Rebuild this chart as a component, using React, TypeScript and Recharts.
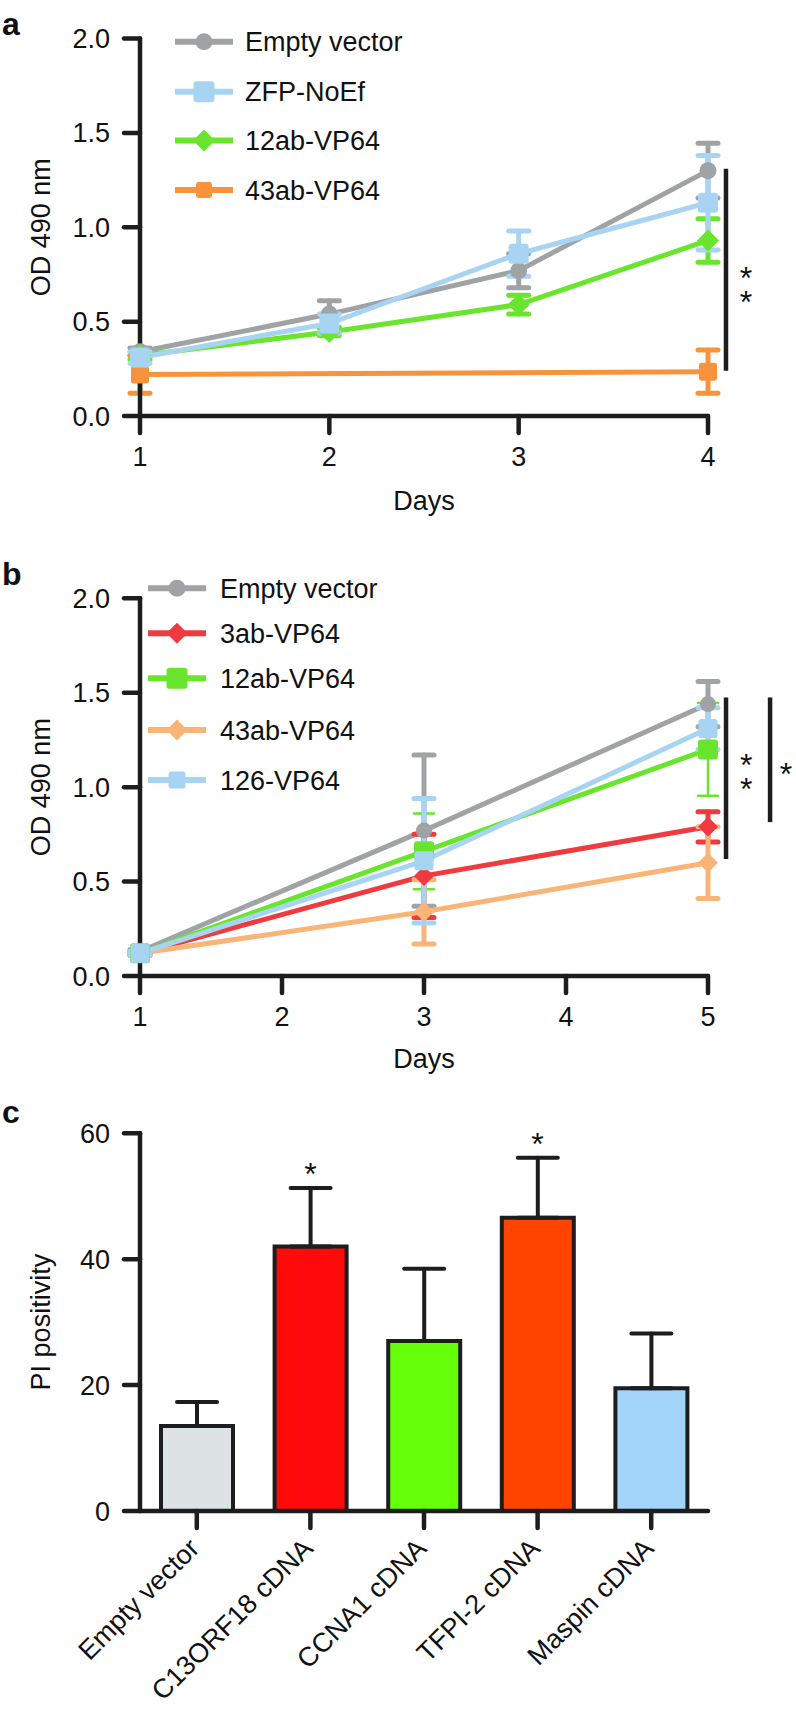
import React from 'react';
import {
  LineChart, Line, XAxis, YAxis, ErrorBar, Legend, ReferenceLine, ReferenceDot,
  BarChart, Bar, Cell,
} from 'recharts';

const FONT = '"Liberation Sans", Arial, Helvetica, sans-serif';
const INK = '#1d1d1d';
const TEXT = '#111111';

// ---------- Panel a ----------
const daysA = [1, 2, 3, 4];
const aEmptyVector = [0.34, 0.54, 0.77, 1.30];
const aEmptyVectorErr = [0.02, 0.07, 0.09, 0.145];
const aZfpNoEf = [0.31, 0.49, 0.86, 1.13];
const aZfpNoEfErr = [0.03, 0.05, 0.12, 0.25];
const a12abVP64 = [0.32, 0.445, 0.59, 0.93];
const a12abVP64Err = [0.02, 0.02, 0.05, 0.115];
const a43abVP64 = [0.22, null, null, 0.235];
const a43abVP64Err = [0.10, null, null, 0.115];
const odTicks = [0, 0.5, 1, 1.5, 2];
const aSigBar = { x: 4.095, from: 0.24, to: 1.31 };
const aSigStars = [{ x: 4.2, y: 0.775, label: '**' }];

// ---------- Panel b ----------
const daysB = [1, 3, 5];
const bTicksX = [1, 2, 3, 4, 5];
const bEmptyVector = [0.13, 0.77, 1.44];
const bEmptyVectorErr = [0.01, 0.40, 0.12];
const b3abVP64 = [0.12, 0.53, 0.79];
const b3abVP64Err = [0.01, 0.22, 0.08];
const b12abVP64 = [0.12, 0.66, 1.2];
const b12abVP64Err = [0.01, 0.2, 0.245];
const b43abVP64 = [0.12, 0.34, 0.6];
const b43abVP64Err = [0.01, 0.17, 0.19];
const b126VP64 = [0.12, 0.61, 1.31];
const b126VP64Err = [0.01, 0.33, 0.11];
const bSigBars = [
  { x: 5.127, from: 0.62, to: 1.475 },
  { x: 5.437, from: 0.815, to: 1.475 },
];
const bSigStars = [
  { x: 5.27, y: 1.158, label: '**' }, { x: 5.55, y: 1.105, label: '*' },
];

// ---------- Panel c ----------
const cCategories = ['Empty vector', 'C13ORF18 cDNA', 'CCNA1 cDNA', 'TFPI-2 cDNA', 'Maspin cDNA'];
const cValues = [13.5, 42, 27, 46.6, 19.5];
const cErrors = [3.8, 9.3, 11.5, 9.5, 8.7];
const cSignificant = [false, true, false, true, false];
const cColors = ['#dde3e4', '#ff0a0a', '#66ff0a', '#ff4400', '#a3d5fa'];
const cTicksY = [0, 20, 40, 60];

type Series = {
  key: string; name: string; color: string; shape: 'circle' | 'square' | 'diamond';
  values: (number | null)[]; errs: (number | null)[]; size: number; legendSize: number; errStroke: number;
};

const seriesA: Series[] = [
  { key: 'ev', name: 'Empty vector', color: '#9fa3a6', shape: 'circle', values: aEmptyVector, errs: aEmptyVectorErr, size: 17, legendSize: 17, errStroke: 5 },
  { key: 'zfp', name: 'ZFP-NoEf', color: '#a8d4f3', shape: 'square', values: aZfpNoEf, errs: aZfpNoEfErr, size: 20, legendSize: 21, errStroke: 5 },
  { key: 'g12', name: '12ab-VP64', color: '#6ae52e', shape: 'diamond', values: a12abVP64, errs: a12abVP64Err, size: 20, legendSize: 20, errStroke: 5 },
  { key: 'o43', name: '43ab-VP64', color: '#f7943b', shape: 'square', values: a43abVP64, errs: a43abVP64Err, size: 18, legendSize: 16, errStroke: 5 },
];
const drawOrderA = ['ev', 'g12', 'o43', 'zfp'];

const seriesB: Series[] = [
  { key: 'ev', name: 'Empty vector', color: '#9fa3a6', shape: 'circle', values: bEmptyVector, errs: bEmptyVectorErr, size: 16, legendSize: 17, errStroke: 5 },
  { key: 'r3', name: '3ab-VP64', color: '#ef3b40', shape: 'diamond', values: b3abVP64, errs: b3abVP64Err, size: 18, legendSize: 19, errStroke: 5 },
  { key: 'g12', name: '12ab-VP64', color: '#6ae52e', shape: 'square', values: b12abVP64, errs: b12abVP64Err, size: 20, legendSize: 21, errStroke: 2.5 },
  { key: 'o43', name: '43ab-VP64', color: '#f8b577', shape: 'diamond', values: b43abVP64, errs: b43abVP64Err, size: 18, legendSize: 19, errStroke: 5 },
  { key: 'b126', name: '126-VP64', color: '#a8d4f3', shape: 'square', values: b126VP64, errs: b126VP64Err, size: 19, legendSize: 17, errStroke: 5 },
];

const rowsA = daysA.map((d, i) => {
  const row: any = { day: d };
  seriesA.forEach((s) => { row[s.key] = s.values[i]; row[s.key + 'Err'] = s.errs[i]; });
  return row;
});
const rowsB = daysB.map((d, i) => {
  const row: any = { day: d };
  seriesB.forEach((s) => { row[s.key] = s.values[i]; row[s.key + 'Err'] = s.errs[i]; });
  return row;
});
const rowsC = cCategories.map((c, i) => ({
  cat: c, value: cValues[i], err: [0, cErrors[i]], top: cValues[i] + cErrors[i], sig: cSignificant[i],
}));

function Marker({ shape, cx, cy, size, fill }: any) {
  if (shape === 'circle') return <circle cx={cx} cy={cy} r={size / 2} fill={fill} />;
  if (shape === 'square') {
    return <rect x={cx - size / 2} y={cy - size / 2} width={size} height={size} rx={size * 0.15} fill={fill} />;
  }
  const h = size / 2 + 1;
  return <path d={`M${cx},${cy - h} L${cx + h},${cy} L${cx},${cy + h} L${cx - h},${cy} Z`} fill={fill} />;
}

const makeDot = (s: Series) => (props: any) => {
  const { cx, cy, value, index } = props;
  if (value == null || cx == null || cy == null || isNaN(cx) || isNaN(cy)) return <g key={`d-${s.key}-${index}`} />;
  return (
    <g key={`d-${s.key}-${index}`}>
      <Marker shape={s.shape} cx={cx} cy={cy} size={s.size} fill={s.color} />
    </g>
  );
};

const makeLegend = (series: Series[], rows: number[], x1: number, x2: number, textX: number) => () => (
  <svg width={796} height={300} style={{ display: 'block', overflow: 'visible' }}>
    {series.map((s, i) => (
      <g key={s.key}>
        <line x1={x1} x2={x2} y1={rows[i]} y2={rows[i]} stroke={s.color} strokeWidth={6} />
        <Marker shape={s.shape} cx={(x1 + x2) / 2} cy={rows[i]} size={s.legendSize} fill={s.color} />
        <text x={textX} y={rows[i]} dy="0.36em" fontSize={27} fontFamily={FONT} fill={TEXT}>{s.name}</text>
      </g>
    ))}
  </svg>
);

// asterisks: a single star is horizontal text; a stack is one upright vertical text run
const makeStars = (label: string) => (props: any) => {
  if (label.length === 1) {
    return (
      <text x={props.cx} y={props.cy + 18} textAnchor="middle" fontSize={32} fontFamily={FONT} fill={TEXT}>
        {label}
      </text>
    );
  }
  return (
    <text
      x={props.cx}
      y={props.cy - 10}
      fontSize={32}
      fontFamily={FONT}
      fill={TEXT}
      style={{ writingMode: 'vertical-rl', textOrientation: 'upright', letterSpacing: '-12px' } as any}
    >
      {label}
    </text>
  );
};
const StarAbove = (props: any) => (
  <text x={props.cx} y={props.cy - 21 + 18} textAnchor="middle" fontSize={32} fontFamily={FONT} fill={TEXT}>*</text>
);

const axisLineStyle = { stroke: INK, strokeWidth: 4.5, strokeLinecap: 'round' as const };
const tickStyle = { fontSize: 27, fontFamily: FONT, fill: TEXT };

function renderLines(series: Series[], order: string[]) {
  return order.map((k) => {
    const s = series.find((x) => x.key === k)!;
    return (
      <Line
        key={s.key}
        type="linear"
        dataKey={s.key}
        name={s.name}
        stroke={s.color}
        strokeWidth={5}
        strokeLinejoin="round"
        connectNulls
        dot={makeDot(s)}
        activeDot={false}
        legendType="none"
        isAnimationActive={false}
      >
        <ErrorBar dataKey={s.key + 'Err'} direction="y" width={10} stroke={s.color} strokeWidth={s.errStroke} strokeLinecap="round" />
      </Line>
    );
  });
}

const RotTick = (props: any) => {
  const { x, y, payload } = props;
  const bx = x + 4;
  const by = y + 20;
  return (
    <text x={bx} y={by} transform={`rotate(-45, ${bx}, ${by})`} textAnchor="end" fontSize={27} fontFamily={FONT} fill={TEXT}>
      {payload.value}
    </text>
  );
};

export default function App() {
  return (
    <div style={{ position: 'absolute', left: 0, top: 0, width: 796, height: 1713, background: '#fff', overflow: 'hidden' }}>
      {/* Panel a */}
      <div style={{ position: 'absolute', left: 0, top: 0 }}>
        <LineChart width={796} height={540} data={rowsA} margin={{ top: 38.5, right: 88, bottom: 0, left: 0 }}>
          <XAxis
            dataKey="day" type="number" domain={[1, 4]} ticks={daysA} height={124}
            axisLine={axisLineStyle} tickLine={axisLineStyle} tickSize={17} tickMargin={14} tick={tickStyle}
            label={{ value: 'Days', position: 'insideBottom', offset: 30, style: tickStyle }}
          />
          <YAxis
            type="number" domain={[0, 2]} ticks={odTicks} width={140} tickFormatter={(v: number) => v.toFixed(1)}
            axisLine={axisLineStyle} tickLine={axisLineStyle} tickSize={16} tickMargin={14} tick={tickStyle}
            label={{ value: 'OD 490 nm', angle: -90, position: 'insideLeft', offset: 40, style: { ...tickStyle, textAnchor: 'middle' } }}
          />
          {renderLines(seriesA, drawOrderA)}
          <ReferenceLine
            segment={[{ x: aSigBar.x, y: aSigBar.from }, { x: aSigBar.x, y: aSigBar.to }]}
            stroke={INK} strokeWidth={4.5} ifOverflow="visible"
          />
          {aSigStars.map((p, i) => (
            <ReferenceDot key={`as${i}`} x={p.x} y={p.y} r={1} ifOverflow="visible" shape={makeStars(p.label)} />
          ))}
          <Legend
            layout="vertical" align="center" verticalAlign="middle"
            wrapperStyle={{ left: 0, top: 0, width: 796, height: 300, pointerEvents: 'none' }}
            content={makeLegend(seriesA, [41.7, 91.7, 140.5, 190], 175, 233, 245)}
          />
        </LineChart>
      </div>

      {/* Panel b */}
      <div style={{ position: 'absolute', left: 0, top: 560 }}>
        <LineChart width={796} height={540} data={rowsB} margin={{ top: 38.3, right: 88, bottom: 0, left: 0 }}>
          <XAxis
            dataKey="day" type="number" domain={[1, 5]} ticks={bTicksX} height={124}
            axisLine={axisLineStyle} tickLine={axisLineStyle} tickSize={17} tickMargin={14} tick={tickStyle}
            label={{ value: 'Days', position: 'insideBottom', offset: 32, style: tickStyle }}
          />
          <YAxis
            type="number" domain={[0, 2]} ticks={odTicks} width={140} tickFormatter={(v: number) => v.toFixed(1)}
            axisLine={axisLineStyle} tickLine={axisLineStyle} tickSize={16} tickMargin={14} tick={tickStyle}
            label={{ value: 'OD 490 nm', angle: -90, position: 'insideLeft', offset: 40, style: { ...tickStyle, textAnchor: 'middle' } }}
          />
          {renderLines(seriesB, seriesB.map((s) => s.key))}
          {bSigBars.map((b, i) => (
            <ReferenceLine
              key={`bb${i}`}
              segment={[{ x: b.x, y: b.from }, { x: b.x, y: b.to }]}
              stroke={INK} strokeWidth={4.5} ifOverflow="visible"
            />
          ))}
          {bSigStars.map((p, i) => (
            <ReferenceDot key={`bs${i}`} x={p.x} y={p.y} r={1} ifOverflow="visible" shape={makeStars(p.label)} />
          ))}
          <Legend
            layout="vertical" align="center" verticalAlign="middle"
            wrapperStyle={{ left: 0, top: 0, width: 796, height: 300, pointerEvents: 'none' }}
            content={makeLegend(seriesB, [28.3, 73.3, 118.3, 170, 220], 148, 206, 220)}
          />
        </LineChart>
      </div>

      {/* Panel c */}
      <div style={{ position: 'absolute', left: 0, top: 1100 }}>
        <BarChart width={796} height={613} data={rowsC} margin={{ top: 33.3, right: 88, bottom: 0, left: 0 }} barSize={72}>
          <XAxis
            dataKey="cat" type="category" height={202} interval={0}
            axisLine={axisLineStyle} tickLine={axisLineStyle} tickSize={17} tick={<RotTick />}
          />
          <YAxis
            type="number" domain={[0, 60]} ticks={cTicksY} width={140}
            axisLine={axisLineStyle} tickLine={axisLineStyle} tickSize={16} tickMargin={14} tick={tickStyle}
            label={{ value: 'PI positivity', angle: -90, position: 'insideLeft', offset: 40, style: { ...tickStyle, textAnchor: 'middle' } }}
          />
          <Bar dataKey="value" stroke={INK} strokeWidth={4} isAnimationActive={false}>
            {rowsC.map((r, i) => (
              <Cell key={r.cat} fill={cColors[i]} />
            ))}
            <ErrorBar dataKey="err" direction="y" width={20} stroke={INK} strokeWidth={4} strokeLinecap="round" />
          </Bar>
          {rowsC.filter((r) => r.sig).map((r) => (
            <ReferenceDot key={`cs-${r.cat}`} x={r.cat} y={r.top} r={1} ifOverflow="visible" shape={StarAbove} />
          ))}
        </BarChart>
      </div>

      {/* Panel letters */}
      <svg width={796} height={1713} style={{ position: 'absolute', left: 0, top: 0, pointerEvents: 'none' }}>
        <text x={2} y={35} fontSize={32} fontWeight="bold" fontFamily={FONT} fill={TEXT}>a</text>
        <text x={2} y={585} fontSize={32} fontWeight="bold" fontFamily={FONT} fill={TEXT}>b</text>
        <text x={2} y={1123} fontSize={32} fontWeight="bold" fontFamily={FONT} fill={TEXT}>c</text>
      </svg>
    </div>
  );
}
